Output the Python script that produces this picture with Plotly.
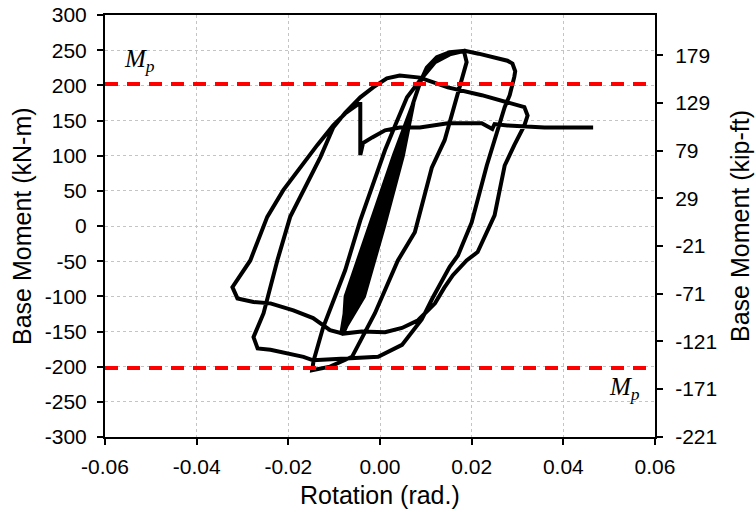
import plotly.graph_objects as go

# Rotation (rad.) and base moment (kN-m) along the loading history
rotation = [
    # elastic cycles (dense band)
    0.0000, 0.0016, 0.0040, 0.0052, 0.0044, 0.0001, -0.0047, -0.0067,
    -0.0063, -0.0015, 0.0030, 0.0050, 0.0065, 0.0054, 0.0003, -0.0044, -0.0062, -0.0080,
    -0.0075, -0.0023, 0.0030, 0.0073, 0.0050, 0.0009, -0.0035, -0.0085,
    -0.0067, -0.0017, 0.0034, 0.0073, 0.0046, 0.0003, -0.0043, -0.0085,
    -0.0059, -0.0010, 0.0038, 0.0073, 0.0042, -0.0004, -0.0051, -0.0085,
    -0.0071, -0.0020, 0.0032, 0.0073, 0.0048, 0.0006, -0.0039, -0.0085,
    # first excursion to the positive peak
    -0.0063, -0.0013, 0.0036, 0.0058, 0.0072, 0.0088, 0.0102,
    0.0124, 0.0152, 0.0183,
    0.0189, 0.0178, 0.0163, 0.0141, 0.0113, 0.0094, 0.0076, 0.0039, 0.0014, -0.0011, -0.0061, -0.0109,
    -0.0148,
    -0.0145, -0.0124, -0.0102, -0.0076, -0.0043, -0.0017, 0.0011, 0.0033, 0.0059, 0.0087,
    0.0120, 0.0152, 0.0185,
    0.0215, 0.0250, 0.0278, 0.0289, 0.0295, 0.0293, 0.0289, 0.0283, 0.0272, 0.0233,
    0.0200, 0.0170, 0.0152, 0.0137, 0.0115, 0.0091, 0.0048, -0.0004, -0.0076, -0.0146, -0.0167, -0.0202,
    -0.0239, -0.0267, -0.0276,
    -0.0254, -0.0239, -0.0224, -0.0196, -0.0159, -0.0146, -0.0130, -0.0102, -0.0076, -0.0043,
    -0.0015, 0.0015, 0.0043, 0.0087, 0.0148, 0.0222, 0.0278, 0.0315, 0.0322,
    0.0315, 0.0293, 0.0272, 0.0250, 0.0213, 0.0189, 0.0159, 0.0140, 0.0120, 0.0083, 0.0048, 0.0011,
    -0.0040, -0.0080, -0.0109, -0.0146, -0.0189, -0.0239, -0.0276, -0.0311, -0.0322,
    # final push
    -0.0283, -0.0246, -0.0211, -0.0174, -0.0137, -0.0102, -0.0076, -0.0050, -0.0043, -0.0043,
    -0.0037, -0.0017, 0.0011, 0.0043, 0.0087, 0.0148, 0.0222, 0.0245, 0.0250, 0.0278,
    0.0359, 0.0465,
]
moment = [
    0, 50, 100, 125, 100, 0, -100, -125,
    -100, 0, 100, 130, 155, 125, 0, -100, -125, -152,
    -100, 0, 100, 175, 100, 0, -100, -155,
    -100, 0, 100, 175, 100, 0, -100, -155,
    -100, 0, 100, 175, 100, 0, -100, -155,
    -100, 0, 100, 175, 100, 0, -100, -155,
    -100, 0, 100, 140, 174, 205, 225,
    240, 247, 249,
    233, 207, 169, 122, 83, 38, -9, -49, -88, -124, -186, -200,
    -205,
    -192, -144, -105, -63, 8, 58, 108, 143, 183, 207,
    233, 244, 249,
    245, 240, 235, 231, 220, 212, 200, 186, 169, 86,
    5, -42, -58, -75, -102, -133, -169, -186, -188, -191, -186, -181,
    -176, -174, -158,
    -124, -87, -49, 13, 61, 79, 98, 140, 161, 183,
    197, 210, 214, 211, 197, 186, 176, 169, 157,
    143, 115, 86, 15, -37, -49, -70, -88, -110, -134, -145, -151,
    -150, -153, -148, -131, -120, -110, -108, -103, -87,
    -49, 13, 51, 84, 115, 143, 160, 172, 176, 101,
    118, 126, 136, 140, 140, 146, 146, 138, 145, 143,
    140, 140,
]

mp_value = 202  # plastic moment, kN-m
x_ticks = [-0.06, -0.04, -0.02, 0.0, 0.02, 0.04, 0.06]
x_tick_text = ["-0.06", "-0.04", "-0.02", "0.00", "0.02", "0.04", "0.06"]
y_ticks = [-300, -250, -200, -150, -100, -50, 0, 50, 100, 150, 200, 250, 300]
y_tick_text = [str(v) for v in y_ticks]
y2_ticks = [-221, -171, -121, -71, -21, 29, 79, 129, 179]
y2_tick_text = [str(v) for v in y2_ticks]
knm_to_kipft = 0.7376

FONT = "Liberation Sans, Arial, sans-serif"
SERIF = "Liberation Serif, Times New Roman, serif"

fig = go.Figure()
fig.add_trace(go.Scatter(x=rotation, y=moment, mode="lines",
                         line=dict(color="black", width=4), hoverinfo="skip",
                         showlegend=False))
for v in (mp_value, -mp_value):
    fig.add_trace(go.Scatter(x=[-0.06, 0.06], y=[v, v], mode="lines",
                             line=dict(color="#ff0000", width=4, dash="13px,9px"),
                             hoverinfo="skip", showlegend=False))
# invisible trace on the secondary axis
fig.add_trace(go.Scatter(x=[0], y=[0], yaxis="y2", mode="markers",
                         marker=dict(opacity=0), hoverinfo="skip", showlegend=False))

fig.update_layout(
    width=756, height=514,
    margin=dict(l=105, r=101, t=15, b=77, autoexpand=False),
    paper_bgcolor="white", plot_bgcolor="white",
    font=dict(family=FONT, color="black", size=21),
    xaxis=dict(range=[-0.06, 0.06], tickvals=x_ticks, ticktext=x_tick_text,
               showgrid=True, gridcolor="#c4c4c4", griddash="dot", gridwidth=1,
               zeroline=False, showline=True, linecolor="black", linewidth=2,
               mirror=True, ticks="outside", ticklen=6, tickwidth=2, tickcolor="black",
               tickfont=dict(size=21), ticklabelstandoff=4, automargin=False),
    yaxis=dict(range=[-300, 300], tickvals=y_ticks, ticktext=y_tick_text,
               showgrid=True, gridcolor="#c4c4c4", griddash="dot", gridwidth=1,
               zeroline=False, showline=True, linecolor="black", linewidth=2,
               ticks="outside", ticklen=6, tickwidth=2, tickcolor="black",
               tickfont=dict(size=21), ticklabelstandoff=6, automargin=False),
    yaxis2=dict(range=[-300 * knm_to_kipft, 300 * knm_to_kipft], overlaying="y",
                side="right", tickvals=y2_ticks, ticktext=y2_tick_text,
                showgrid=False, zeroline=False, showline=True, linecolor="black",
                linewidth=2, ticks="outside", ticklen=6, tickwidth=2, tickcolor="black",
                tickfont=dict(size=21), ticklabelstandoff=8, automargin=False),
    annotations=[
        dict(text="Base Moment (kN-m)", xref="paper", yref="paper", x=0, y=0.5,
             xanchor="center", yanchor="middle", xshift=-83, textangle=-90,
             showarrow=False, font=dict(size=25, family=FONT)),
        dict(text="Base Moment (kip-ft)", xref="paper", yref="paper", x=1, y=0.5,
             xanchor="center", yanchor="middle", xshift=85, textangle=-90,
             showarrow=False, font=dict(size=25, family=FONT)),
        dict(text="Rotation (rad.)", xref="paper", yref="paper", x=0.5, y=0,
             xanchor="center", yanchor="middle", yshift=-58,
             showarrow=False, font=dict(size=25, family=FONT)),
        dict(text="<i>M<sub>p</sub></i>", x=-0.0562, y=236, xanchor="left",
             yanchor="middle", showarrow=False, font=dict(size=25, family=SERIF)),
        dict(text="<i>M<sub>p</sub></i>", x=0.0496, y=-231, xanchor="left",
             yanchor="middle", showarrow=False, font=dict(size=25, family=SERIF)),
    ],
)

fig.write_html("out.html")
